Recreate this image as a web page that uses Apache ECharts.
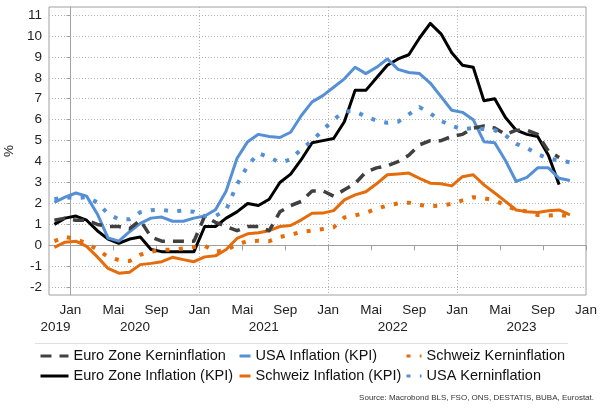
<!DOCTYPE html>
<html>
<head>
<meta charset="utf-8">
<script src="https://cdn.jsdelivr.net/npm/echarts@6/dist/echarts.min.js"></script>
<style>
  html, body { margin: 0; padding: 0; background: #fff; }
  #chart { width: 605px; height: 416px; }
</style>
</head>
<body>
<div id="chart"></div>
<script>
// Monatsindex: 0 = Jan 2020, erster Wert = Nov 2019
const firstMonth = -2;
const xMin = -2, xMax = 48;

const monthTicks = [0, 4, 8, 12, 16, 20, 24, 28, 32, 36, 40, 44, 48];
const monthNames = ['Jan', 'Mai', 'Sep'];
const janTicks = [0, 12, 24, 36];
const yearPos = [-1.4, 6, 18, 30, 42];
const yearLabels = ['2019', '2020', '2021', '2022', '2023'];
const yTicks = [-2, -1, 0, 1, 2, 3, 4, 5, 6, 7, 8, 9, 10, 11];

// Nov 2019 .. Nov 2023
const euroKern = [1.2, 1.3, 1.2, 1.2, 1.0, 0.9, 0.9, 0.8, 1.2, 0.4, 0.2, 0.2, 0.2, 0.2,
  1.4, 1.1, 0.9, 0.7, 0.9, 0.9, 0.7, 1.6, 1.9, 2.1, 2.6, 2.6,
  2.35, 2.65, 2.95, 3.5, 3.7, 3.8, 4.0, 4.3, 4.8, 5.0, 5.0, 5.2,
  5.3, 5.6, 5.7, 5.6, 5.3, 5.5, 5.5, 5.3, 4.5, 4.2, null];
const euroInfl = [1.0, 1.3, 1.4, 1.2, 0.7, 0.3, 0.1, 0.3, 0.4, -0.2, -0.3, -0.3, -0.3, -0.3,
  0.9, 0.9, 1.3, 1.6, 2.0, 1.9, 2.2, 3.0, 3.4, 4.1, 4.9, 5.0,
  5.1, 5.9, 7.4, 7.4, 8.0, 8.6, 8.9, 9.1, 9.9, 10.6, 10.1, 9.2,
  8.6, 8.5, 6.9, 7.0, 6.1, 5.5, 5.3, 5.2, 4.3, 2.9, null];
const usaInfl = [2.05, 2.3, 2.5, 2.35, 1.5, 0.35, 0.2, 0.65, 1.05, 1.3, 1.35, 1.15, 1.15, 1.3,
  1.4, 1.7, 2.6, 4.15, 4.95, 5.3, 5.2, 5.15, 5.4, 6.2, 6.85, 7.15,
  7.55, 7.95, 8.5, 8.2, 8.5, 8.9, 8.4, 8.25, 8.2, 7.75, 7.1, 6.45,
  6.35, 6.0, 4.95, 4.9, 4.05, 3.05, 3.25, 3.7, 3.7, 3.2, 3.1];
const schweizInfl = [-0.1, 0.15, 0.2, -0.05, -0.55, -1.1, -1.33, -1.28, -0.92, -0.86, -0.78, -0.57, -0.68, -0.78,
  -0.55, -0.5, -0.2, 0.33, 0.55, 0.6, 0.7, 0.9, 0.95, 1.22, 1.53, 1.54,
  1.66, 2.17, 2.41, 2.56, 2.94, 3.37, 3.41, 3.45, 3.2, 2.97, 2.94, 2.84,
  3.28, 3.37, 2.89, 2.5, 2.1, 1.69, 1.61, 1.57, 1.65, 1.69, 1.46];
const schweizKern = [0.2, 0.4, 0.3, 0.1, -0.2, -0.55, -0.7, -0.75, -0.45, -0.3, -0.22, -0.2, -0.15, -0.08,
  -0.02, -0.3, -0.22, 0.05, 0.2, 0.22, 0.2, 0.4, 0.5, 0.65, 0.7, 0.78,
  0.86, 1.33, 1.43, 1.55, 1.75, 1.9, 2.0, 2.04, 1.93, 1.87, 1.9, 1.98,
  2.15, 2.3, 2.25, 2.15, 1.9, 1.7, 1.62, 1.45, 1.42, 1.45, 1.4];
const usaKern = [2.2, 2.3, 2.25, 2.3, 2.05, 1.5, 1.25, 1.25, 1.58, 1.68, 1.7, 1.62, 1.66, 1.6,
  1.4, 1.4, 1.7, 2.9, 3.8, 4.4, 4.2, 3.95, 4.1, 4.6, 5.0, 5.5,
  6.0, 6.4, 6.4, 6.15, 5.95, 5.85, 5.9, 6.25, 6.6, 6.3, 5.95, 5.7,
  5.55, 5.6, 5.55, 5.5, 5.25, 4.85, 4.65, 4.35, 4.15, 4.05, 3.97];

const font = "'Liberation Sans', Arial, sans-serif";
const gray = '#a0a0a0';
const blue = '#5590d6';
const orange = '#e46c0a';

function toPoints(values) {
  // Monatsmitte
  return values.map((v, i) => [firstMonth + i + 0.5, v]);
}

function line(name, values, color, width, type) {
  return {
    name: name,
    type: 'line',
    data: toPoints(values),
    symbol: 'none',
    connectNulls: false,
    lineStyle: { color: color, width: width, type: type, cap: 'butt', join: 'round' },
    itemStyle: { color: color }
  };
}

function legendCol(left, w, names) {
  return {
    orient: 'vertical',
    left: left,
    top: 348,
    padding: 0,
    itemWidth: w,
    itemHeight: 6,
    itemGap: 4,
    selectedMode: false,
    data: names,
    itemStyle: { opacity: 0 },
    lineStyle: { width: 3 },
    textStyle: { fontSize: 14.5, color: '#111', fontFamily: font, lineHeight: 16 }
  };
}

let chart = echarts.init(document.getElementById('chart'), null, { renderer: 'canvas' });

chart.setOption({
  animation: false,
  backgroundColor: '#fff',
  textStyle: { fontFamily: font },
  grid: {
    left: 49, right: 19, top: 7, bottom: 121,
    show: true, borderColor: gray, borderWidth: 1,
    outerBoundsMode: 'none'
  },
  xAxis: [{
    type: 'value',
    min: xMin, max: xMax,
    position: 'bottom',
    axisLine: { show: true, lineStyle: { color: gray } },
    axisTick: { show: true, length: 5, customValues: monthTicks, lineStyle: { color: gray } },
    axisLabel: {
      customValues: monthTicks,
      margin: 8,
      fontSize: 13.5,
      color: '#222',
      formatter: v => monthNames[(((v % 12) + 12) % 12) / 4]
    },
    splitLine: { show: false }
  }, {
    type: 'value',
    min: xMin, max: xMax,
    position: 'bottom',
    axisLine: { show: false },
    axisTick: { show: false, customValues: janTicks },
    axisLabel: {
      customValues: yearPos,
      margin: 25,
      fontSize: 13.5,
      color: '#222',
      formatter: v => yearLabels[yearPos.indexOf(v)]
    },
    splitLine: { show: true, lineStyle: { color: '#b4b4b4', type: [1, 2] } }
  }],
  yAxis: {
    type: 'value',
    min: -2.37, max: 11.38,
    name: '%',
    nameLocation: 'middle',
    nameGap: 28,
    nameTextStyle: { fontSize: 13.5, color: '#222' },
    axisLine: { show: true, lineStyle: { color: gray } },
    axisTick: { show: true, length: 4, customValues: yTicks, lineStyle: { color: gray } },
    axisLabel: { customValues: yTicks, margin: 7, fontSize: 13.5, color: '#222' },
    splitLine: { show: true, lineStyle: { color: '#b4b4b4', type: [1, 2] } }
  },
  legend: [
    legendCol(39, 28, ['Euro Zone Kerninflation', 'Euro Zone Inflation (KPI)']),
    legendCol(238, 11, ['USA Inflation (KPI)', 'Schweiz Inflation (KPI)']),
    legendCol(405, 15, ['Schweiz Kerninflation', 'USA Kerninflation'])
  ],
  series: [
    line('Euro Zone Inflation (KPI)', euroInfl, '#000000', 3, 'solid'),
    line('USA Inflation (KPI)', usaInfl, blue, 3, 'solid'),
    line('Schweiz Inflation (KPI)', schweizInfl, orange, 3, 'solid'),
    line('Euro Zone Kerninflation', euroKern, '#404040', 3.5, [11, 8]),
    line('Schweiz Kerninflation', schweizKern, orange, 4, [4, 9.3]),
    line('USA Kerninflation', usaKern, blue, 4, [4, 9.3])
  ],
  graphic: [{
    type: 'line',
    shape: { x1: 35, y1: 343.5, x2: 568, y2: 343.5 },
    style: { stroke: '#e0e0e0', lineWidth: 1 }
  }, {
    type: 'text',
    right: 11,
    top: 394,
    style: {
      text: 'Source: Macrobond BLS, FSO, ONS, DESTATIS, BUBA, Eurostat.',
      fontSize: 8,
      fontFamily: font,
      fill: '#333'
    }
  }]
});
</script>
</body>
</html>
